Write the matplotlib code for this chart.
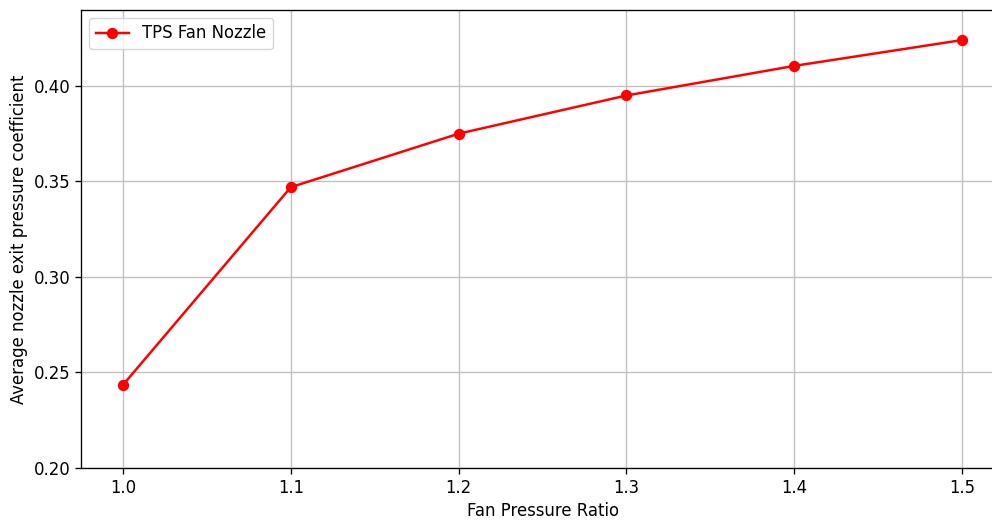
import matplotlib
matplotlib.use("Agg")
import matplotlib.pyplot as plt

fan_pressure_ratio = [1.0, 1.1, 1.2, 1.3, 1.4, 1.5]
exit_pressure_coeff = [0.2435, 0.347, 0.375, 0.395, 0.4105, 0.424]

scale = 1.19
plt.rcParams.update({
    "font.size": 10 * scale,
    "axes.linewidth": 0.8 * scale,
    "xtick.major.width": 0.8 * scale,
    "ytick.major.width": 0.8 * scale,
    "xtick.major.size": 3.5 * scale,
    "ytick.major.size": 3.5 * scale,
})

fig = plt.figure(figsize=(9.92, 5.2), dpi=100)
ax = fig.add_axes([0.0817, 0.1, 0.9305, 0.8817])

ax.plot(fan_pressure_ratio, exit_pressure_coeff, color="red", marker="o",
        linewidth=1.5 * scale, markersize=6 * scale, label="TPS Fan Nozzle")

ax.set_xlim(0.975, 1.525)
ax.set_ylim(0.20, 0.44)
ax.set_yticks([0.20, 0.25, 0.30, 0.35, 0.40])
ax.set_xlabel("Fan Pressure Ratio")
ax.set_ylabel("Average nozzle exit pressure coefficient")
ax.grid(True, color="#c0c0c0", linewidth=0.8 * scale)
ax.set_axisbelow(True)
ax.legend(loc="upper left")

fig.savefig("out.png", dpi=100)
